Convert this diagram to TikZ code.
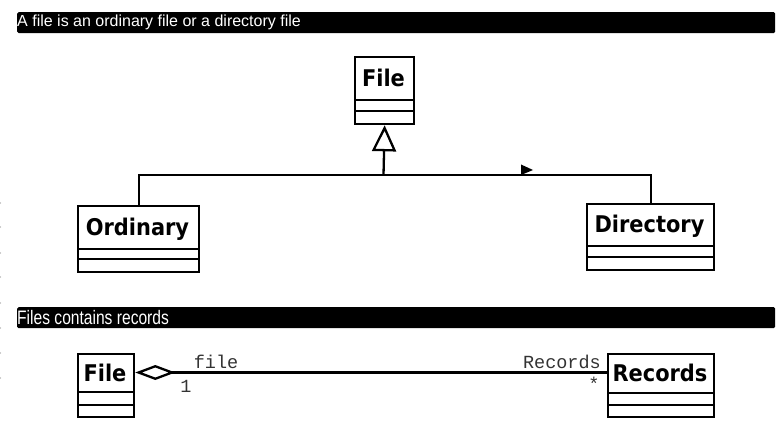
\documentclass[tikz,border=0pt]{standalone}
\usepackage{fontspec}
\setmainfont{Liberation Sans}
\newfontfamily\clsfont{DejaVu Sans}
\newfontfamily\monofont{Liberation Mono}
\usetikzlibrary{arrows.meta}
\tikzset{
  bar/.style={fill=black, rounded corners=1.5pt},
  bartext/.style={text=white, anchor=west, inner sep=0pt, font=\fontsize{16}{18}\selectfont},
  clsbox/.style={draw, line width=2.3pt, rectangle, inner sep=0pt},
  clstext/.style={font=\clsfont\bfseries\fontsize{23}{25}\selectfont, inner sep=0pt, anchor=base},
  conn/.style={line width=2.3pt},
  role/.style={font=\monofont\fontsize{18.5}{20}\selectfont, inner sep=0pt, text=black!80},
}
\newcommand{\umlclass}[8]{%
  \node[clsbox, minimum width=#4-#2, minimum height=#5-#3, anchor=north west] (#1) at (#2,#3) {};
  \draw[line width=2.3pt] (#2,#6) -- (#4,#6);
  \draw[line width=2.3pt] (#2,#7) -- (#4,#7);
  \coordinate (#1-mid) at ({(#2+#4)/2},{(#3+#6)/2});
  \node[clstext] (#1-name) at ({(#2+#4)/2},{(#3+#6)/2+8.5}) {\scalebox{0.91}[1]{#8}};
}
\begin{document}
\begin{tikzpicture}[x=1pt,y=-1pt]
\useasboundingbox (0,0) rectangle (783,438);
% header bars
\node[bar, minimum width=758pt, minimum height=21pt, anchor=north west, inner sep=0pt] (bar1) at (17,12) {};
\node[bartext] (t1) at (17,22.5) {A file is an ordinary file or a directory file};
\node[bar, minimum width=758pt, minimum height=21pt, anchor=north west, inner sep=0pt] (bar2) at (17,307) {};
\node[bartext] (t2) at (17,318) {\scalebox{0.8}[1]{\fontsize{19.5}{21}\selectfont Files contains records}};
% classes
\umlclass{file}{354}{56}{413}{123}{100}{111}{File}
\umlclass{ord}{77}{205}{198}{271}{249}{259}{Ordinary}
\umlclass{dir}{586}{203}{713}{269}{246}{257}{Directory}
\umlclass{file2}{77}{353}{133}{416}{392}{405}{File}
\umlclass{rec}{607}{353}{713}{416}{393}{405}{Records}
% generalization
\coordinate (j) at (383.5,175);
\draw[conn] (ord.north) |- (j) -| (dir.north);
\draw[conn, -{Triangle[open, length=26pt, width=24pt, line width=2.3pt]}] (j) -- (file.south);
\fill (521,164.5) -- (533,170) -- (521,175) -- cycle;
% aggregation
\draw[conn, {Diamond[open, length=40pt, width=15pt, line width=2.3pt]}-] (file2-mid -| file2.east) -- (file2-mid -| rec.west);
\node[role] (lfile) at (216,362) {file};
\node[role] (lone) at (186,386) {1};
\node[role, anchor=east] (lrec) at (601,362) {Records};
\node[role] (lstar) at (594,384) {*};
% edge artefacts
\foreach \yy in {203,227,253,277,303,328,353,378} \fill[black!40] (0.5,\yy) circle (0.6pt);
\end{tikzpicture}
\end{document}
